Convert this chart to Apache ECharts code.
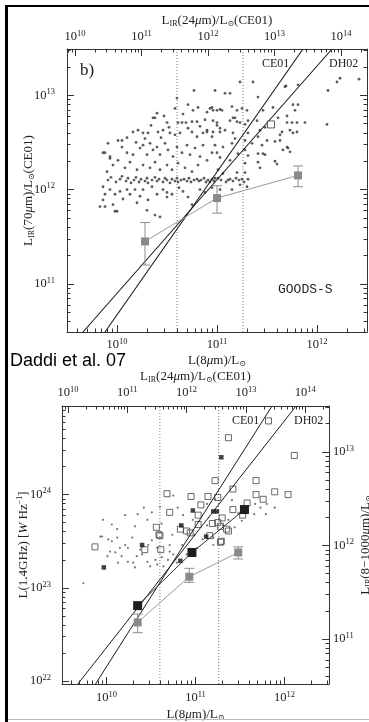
<!DOCTYPE html>
<html><head><meta charset="utf-8">
<script src="https://cdn.jsdelivr.net/npm/echarts@6/dist/echarts.min.js"></script>
<style>html,body{margin:0;padding:0;background:#fff}#c{width:369px;height:722px}</style>
</head><body><div id="c"></div>
<script>
// ===== DATA (all values are log10 of the plotted quantity) =====
// Top panel (GOODS-S): x = log L(8um)/Lsun, y = log LIR(70um)/Lsun
const topDots = [
[10.60,12.97],[10.77,13.05],[10.98,13.05],[11.08,13.02],[11.13,13.02],[11.23,13.14],[11.36,13.14],[11.41,12.98],[11.69,13.10],[11.81,13.11],[12.11,13.05],[12.20,13.14],[12.23,13.18],[12.42,13.17],
[10.58,12.86],[10.71,12.90],[10.76,12.84],[10.81,12.87],[10.93,12.86],[11.03,12.85],[11.15,12.88],[10.90,12.82],[10.96,12.84],[10.40,12.81],[10.36,12.76],[10.38,12.76],[10.50,12.71],[10.61,12.71],[10.65,12.71],[10.69,12.71],[10.75,12.72],[10.80,12.72],[10.83,12.67],[10.96,12.73],[11.00,12.68],[10.90,12.63],[11.16,12.76],[11.23,12.71],[11.28,12.69],
[10.21,12.63],[10.16,12.61],[10.26,12.60],[10.31,12.60],[10.41,12.61],[10.46,12.63],[10.53,12.60],[10.58,12.58],[10.63,12.60],[10.75,12.61],[10.80,12.56],[10.86,12.60],[10.90,12.61],[10.95,12.56],[11.03,12.61],[11.16,12.60],[11.28,12.52],[11.35,12.49],[11.41,12.56],[11.50,12.52],[11.63,12.52],[11.76,12.60],[11.80,12.61],
[10.98,12.47],[11.06,12.45],[11.15,12.49],[11.31,12.60],[11.18,12.54],[10.95,12.39],[11.00,12.39],[11.03,12.34],[11.21,12.38],[11.28,12.42],[11.31,12.36],[11.41,12.38],[11.48,12.37],[11.13,12.31],[11.20,12.18],[11.28,12.28],[11.01,12.21],[11.06,12.17],[11.28,12.18],[11.11,12.10],[11.25,12.11],[10.98,12.12],[10.93,12.08],
[10.95,12.87],[11.00,12.84],[11.05,12.84],[11.25,12.86],[11.20,12.84],[11.30,12.84],[11.46,12.84],[11.18,12.76],[11.13,12.73],[11.20,12.72],[11.00,12.71],[11.08,12.63],[11.31,12.73],[11.40,12.73],[11.43,12.63],[11.48,12.66],[10.96,12.61],[11.03,12.65],[11.63,12.58],[11.68,13.09],[11.88,12.71],[11.75,12.71],[11.80,12.71],
[11.76,12.90],[11.81,12.90],[11.78,12.84],[12.10,12.69],[11.70,12.71],[11.61,12.76],[11.66,12.42],[11.71,12.44],[11.58,12.51],[11.45,12.47],[11.58,12.30],[11.65,12.61],[11.73,12.63],[11.41,12.29],[11.43,12.23],[11.46,12.38],[11.60,12.27],[11.70,12.45],[11.73,12.40],[11.56,12.87],[11.70,12.78],
[9.86,12.39],[9.93,12.35],[10.05,12.45],[10.10,12.39],[10.16,12.37],[10.23,12.44],[10.26,12.47],[10.30,12.37],[10.33,12.49],[10.36,12.42],[10.40,12.45],[10.43,12.37],[10.48,12.49],[10.51,12.42],[10.56,12.35],[10.60,12.45],[10.65,12.39],[10.70,12.47],[10.73,12.37],[10.78,12.44],[10.83,12.35],[10.86,12.47],[10.90,12.31],
[9.96,12.26],[10.01,12.31],[10.08,12.23],[10.13,12.29],[10.20,12.21],[10.26,12.26],[10.33,12.23],[10.38,12.29],[10.43,12.21],[10.50,12.26],[10.55,12.21],[10.61,12.28],[10.68,12.23],[10.75,12.19],[10.81,12.26],[9.90,12.19],
[9.91,12.49],[9.88,12.39],[10.01,12.52],[10.05,12.52],[9.93,12.33],
[10.10,12.55],[10.19,12.50],[10.28,12.54],[10.44,12.55],[10.52,12.66],[10.34,12.68],[10.47,12.78],[10.66,12.80],[10.71,12.65],[10.88,12.74],
[9.91,12.10],[9.94,12.13],[9.99,12.08],[10.03,12.11],[10.05,12.14],[10.09,12.09],[10.11,12.12],[10.14,12.07],[10.17,12.10],[10.19,12.13],[10.22,12.08],[10.24,12.11],[10.28,12.09],[10.30,12.12],[10.31,12.07],[10.35,12.10],[10.38,12.13],[10.40,12.09],[10.42,12.11],[10.46,12.08],[10.48,12.12],[10.50,12.10],[10.53,12.07],[10.55,12.11],[10.58,12.09],[10.60,12.12],[10.61,12.08],[10.64,12.10],[10.67,12.11],[10.70,12.09],[10.72,12.12],[10.74,12.08],[10.77,12.10],[10.80,12.11],[10.82,12.09],[10.84,12.10],[10.87,12.12],[10.89,12.08],[10.91,12.10],[10.95,12.11],[10.97,12.09],[11.01,12.12],[11.04,12.10],[11.09,12.08],[11.13,12.11],[11.16,12.09],[11.19,12.12],[11.22,12.10],[11.27,12.08],[11.31,12.11],
[9.86,12.03],[9.88,11.95],[9.93,12.00],[9.98,11.95],[10.03,11.98],[9.86,11.89],[9.83,11.82],[9.88,11.82],[9.96,11.84],[9.98,11.77],[10.00,11.77],[10.10,12.00],[10.13,11.95],[10.18,12.00],[10.23,11.93],[10.26,12.00],[10.30,11.78],[10.31,11.89],[10.38,11.73],[10.43,11.71],[10.40,11.95],[10.46,12.00],[10.50,11.97],[10.50,11.92],[10.55,11.95],[10.66,11.98],[10.71,11.92],[10.75,11.84],[10.83,12.00],[10.88,11.97],[10.95,12.02],[11.03,12.00],[11.15,12.00],[11.23,12.05],[11.30,12.03],[10.06,11.90],[10.20,11.86],[10.62,12.02],[10.35,12.03]
];
const topOpenSquare = [[11.54, 12.69]];
const topBinX  = [10.28, 11.00, 11.81];
const topBinY  = [11.45, 11.91, 12.15];
const topBinLo = [11.20, 11.75, 12.03];
const topBinHi = [11.65, 12.04, 12.25];
const topCE01 = [[9.88, 10.49], [11.86, 13.49]];
const topDH02 = [[9.66, 10.49], [12.15, 13.49]];
const dottedL8 = [10.60, 11.26];

// Bottom panel (Daddi et al. 07): x = log L(8um)/Lsun, y = log L(1.4GHz) [W/Hz]
const botDots = [
[10.42,23.86],[10.21,23.78],[10.51,23.81],[10.32,23.66],[10.12,23.63],[9.95,23.55],[10.06,23.50],[10.21,23.46],[10.29,23.54],[10.51,23.51],[10.62,23.69],[10.75,23.99],[10.86,23.78],[11.13,23.90],[11.41,23.94],[11.67,23.90],[11.66,23.79],[11.79,23.79],[11.89,23.86],[11.44,23.65],[11.52,23.72],[11.13,23.67],[11.31,23.67],[10.74,23.57],[10.99,23.57],[10.71,23.46],
[10.04,23.39],[10.01,23.34],[10.13,23.27],[10.24,23.28],[10.30,23.27],[10.34,23.34],[10.46,23.28],[10.49,23.23],[10.55,23.30],[10.57,23.25],[10.62,23.33],[10.64,23.23],[10.71,23.39],[10.75,23.36],[10.79,23.27],[10.90,23.36],[9.93,23.55],[10.02,23.52],[10.12,23.54],[9.74,23.05],[10.15,23.43],[10.38,23.41],[10.24,23.43],[10.10,23.38],[10.17,23.34],[10.40,23.36],[10.32,23.22],[10.69,23.30],[10.47,23.46],[10.57,23.43],[10.85,23.46],[11.02,23.43],[11.08,23.52],[11.20,23.54],[11.37,23.73],[11.48,23.80],[11.73,23.86],[11.80,23.90],[11.20,23.46],[10.97,23.73],[10.80,23.86],[10.60,23.87],[11.22,23.95],[10.35,23.79],[10.46,23.73],[9.96,23.73],[10.06,23.68]
];
const botOpen = [
[11.82,24.79],[11.37,24.61],[12.11,24.42],[11.22,24.15],[11.68,24.15],[11.42,24.06],[10.68,24.01],[11.68,24.00],[11.89,24.03],[12.04,24.00],[10.95,23.98],[11.14,23.98],[11.25,23.97],[11.76,23.95],[11.58,23.91],[11.06,23.89],[10.71,23.81],[11.42,23.84],[11.53,23.78],[11.03,23.78],[11.30,23.75],[11.19,23.69],[11.25,23.70],[10.56,23.65],[10.83,23.63],[11.03,23.68],[11.37,23.61],[10.59,23.57],[11.29,23.50],[9.87,23.44],[11.16,23.56],[10.90,23.61],[10.43,23.41],[10.60,23.56],[10.94,23.59],[11.28,23.66],[11.35,23.63],[10.61,23.41],[11.28,23.49]
];
const botFilledSmall = [
[11.29,24.40],[10.97,23.83],[11.20,23.82],[11.24,23.82],[10.84,23.67],[11.12,23.55],[10.40,23.46],[9.97,23.22],[10.83,23.29]
];
const botBlackX = [10.35, 10.96, 11.55];
const botBlackY = [22.81, 23.38, 23.84];
const botGrayX  = [10.35, 10.93, 11.48];
const botGrayY  = [22.63, 23.12, 23.38];
const botGrayLo = [22.52, 23.06, 23.31];
const botGrayHi = [22.72, 23.21, 23.44];
const botCE01 = [[9.87, 21.96], [11.86, 24.95]];
const botDH02 = [[9.67, 21.96], [12.13, 24.95]];

// Axis ranges (log10)
const topL8Range = [9.5, 12.5], topLIR24Range = [9.88, 14.39], topLIR70Range = [10.49, 13.49];
const botL8Range = [9.5, 12.5], botLIR24Range = [9.9, 14.4], botRadioRange = [21.97, 24.95], botLIRRange = [10.52, 13.49];

// ===== CHART =====
const SERIF = '"Liberation Serif","DejaVu Serif",serif';
const INK = '#222';
const richLbl = {
  b: {fontFamily: SERIF, fontSize: 12.5, color: INK},
  s: {fontFamily: SERIF, fontSize: 8.5, color: INK, padding: [0, 0, 7, 0]}
};
const richName = {
  n: {fontFamily: SERIF, fontSize: 13, color: INK},
  it: {fontFamily: SERIF, fontSize: 13, fontStyle: 'italic', color: INK},
  sub: {fontFamily: SERIF, fontSize: 8, color: INK, padding: [6, 0, 0, 0]},
  sup: {fontFamily: SERIF, fontSize: 8, color: INK, padding: [0, 0, 7, 0]}
};
function pow10(v) { return '{b|10}{s|' + Math.round(v) + '}'; }
function ints(r) { const a = []; for (let n = Math.ceil(r[0] - 1e-9); n <= r[1] + 1e-9; n++) a.push(n); return a; }
function minors(r) {
  const a = [];
  for (let n = Math.floor(r[0]) - 1; n <= Math.ceil(r[1]); n++)
    for (let k = 2; k <= 9; k++) { const v = n + Math.log10(k); if (v > r[0] && v < r[1]) a.push(v); }
  return a;
}
function axis(grid, pos, r, major, opt) {
  opt = opt || {};
  return {
    type: 'value', gridIndex: grid, position: pos, min: r[0], max: r[1],
    axisLine: {show: major, onZero: false, lineStyle: {color: '#333', width: 1}},
    splitLine: {show: false},
    axisTick: {show: true, inside: true, length: major ? 7 : 3.5,
      customValues: major ? ints(r) : minors(r), lineStyle: {color: '#333', width: 1}},
    axisLabel: {show: !!opt.labels, customValues: ints(r), formatter: pow10,
      margin: opt.margin || 6, rich: richLbl},
    name: opt.name || '', nameLocation: 'middle', nameGap: opt.nameGap || 20,
    nameMoveOverlap: false,
    nameTextStyle: {rich: richName},
    z: 5
  };
}
const xAxes = [
  axis(0, 'bottom', topL8Range, true, {labels: true, margin: 5, name: '{n|L(8}{it|μ}{n|m)/L}{sub|⊙}', nameGap: 22}),
  axis(0, 'bottom', topL8Range, false),
  axis(0, 'top', topLIR24Range, true, {labels: true, margin: 4, name: '{n|L}{sub|IR}{n|(24}{it|μ}{n|m)/L}{sub|⊙}{n|(CE01)}', nameGap: 21}),
  axis(0, 'top', topLIR24Range, false),
  axis(1, 'bottom', botL8Range, true, {labels: true, margin: 6, name: '{n|L(8}{it|μ}{n|m)/L}{sub|⊙}', nameGap: 24}),
  axis(1, 'bottom', botL8Range, false),
  axis(1, 'top', botLIR24Range, true, {labels: true, margin: 5, name: '{n|L}{sub|IR}{n|(24}{it|μ}{n|m)/L}{sub|⊙}{n|(CE01)}', nameGap: 22}),
  axis(1, 'top', botLIR24Range, false)
];
const yAxes = [
  axis(0, 'left', topLIR70Range, true, {labels: true, margin: 12, name: '{n|L}{sub|IR}{n|(70}{it|μ}{n|m)/L}{sub|⊙}{n|(CE01)}', nameGap: 31}),
  axis(0, 'left', topLIR70Range, false),
  axis(0, 'right', topLIR70Range, true),
  axis(0, 'right', topLIR70Range, false),
  axis(1, 'left', botRadioRange, true, {labels: true, margin: 11, name: '{n|L(1.4GHz) [}{it|W}{n| Hz}{sup|−1}{n|]}', nameGap: 31}),
  axis(1, 'left', botRadioRange, false),
  axis(1, 'right', botLIRRange, true, {labels: true, margin: 4, name: '{n|L}{sub|IR}{n|(8−1000}{it|μ}{n|m)/L}{sub|⊙}', nameGap: 30}),
  axis(1, 'right', botLIRRange, false)
];

function zip(xs, ys) { return xs.map((x, i) => [x, ys[i]]); }
function errData(xs, ys, lo, hi) { return xs.map((x, i) => [x, ys[i], lo[i], hi[i]]); }
function errRender(params, api) {
  const x = api.value(0), lo = api.value(2), hi = api.value(3);
  const a = api.coord([x, hi]), b = api.coord([x, lo]);
  const w = 5, st = {stroke: '#8c8c8c', lineWidth: 1};
  return {type: 'group', children: [
    {type: 'line', shape: {x1: a[0], y1: a[1], x2: b[0], y2: b[1]}, style: st},
    {type: 'line', shape: {x1: a[0] - w, y1: a[1], x2: a[0] + w, y2: a[1]}, style: st},
    {type: 'line', shape: {x1: b[0] - w, y1: b[1], x2: b[0] + w, y2: b[1]}, style: st}
  ]};
}
function vlines(xs, r) { return xs.map(x => [[x, r[0]], [x, r[1]]]); }

const series = [];
function add(s) { series.push(Object.assign({silent: true, animation: false}, s)); }
// ---- top panel (x 0, y 0)
add({type: 'scatter', xAxisIndex: 0, yAxisIndex: 0, data: topDots, symbol: 'circle', symbolSize: 2.8, itemStyle: {color: '#333'}, z: 2});
vlines(dottedL8, topLIR70Range).forEach(d => add({type: 'line', xAxisIndex: 0, yAxisIndex: 0, data: d, symbol: 'none', lineStyle: {color: '#777', width: 1, type: [1, 2]}, z: 3}));
add({type: 'line', xAxisIndex: 0, yAxisIndex: 0, data: topCE01, symbol: 'none', lineStyle: {color: '#1a1a1a', width: 1.1}, z: 4});
add({type: 'line', xAxisIndex: 0, yAxisIndex: 0, data: topDH02, symbol: 'none', lineStyle: {color: '#1a1a1a', width: 1.1}, z: 4});
add({type: 'custom', xAxisIndex: 0, yAxisIndex: 0, data: errData(topBinX, topBinY, topBinLo, topBinHi), renderItem: errRender, encode: {x: 0, y: 1}, z: 5});
add({type: 'line', xAxisIndex: 0, yAxisIndex: 0, data: zip(topBinX, topBinY), symbol: 'rect', symbolSize: 8, itemStyle: {color: '#8a8a8a'}, lineStyle: {color: '#999', width: 1}, z: 6});
add({type: 'scatter', xAxisIndex: 0, yAxisIndex: 0, data: topOpenSquare, symbol: 'rect', symbolSize: 7, itemStyle: {color: '#fff', borderColor: '#333', borderWidth: 1}, z: 6});
// ---- bottom panel (x 4, y 4)
add({type: 'scatter', xAxisIndex: 4, yAxisIndex: 4, data: botDots, symbol: 'circle', symbolSize: 2.2, itemStyle: {color: '#555'}, z: 2});
vlines(dottedL8, botRadioRange).forEach(d => add({type: 'line', xAxisIndex: 4, yAxisIndex: 4, data: d, symbol: 'none', lineStyle: {color: '#777', width: 1, type: [1, 2]}, z: 3}));
add({type: 'scatter', xAxisIndex: 4, yAxisIndex: 4, data: botOpen, symbol: 'rect', symbolSize: 6, itemStyle: {color: 'rgba(255,255,255,0)', borderColor: '#444', borderWidth: 1}, z: 3});
add({type: 'scatter', xAxisIndex: 4, yAxisIndex: 4, data: botFilledSmall, symbol: 'rect', symbolSize: 4.5, itemStyle: {color: '#111'}, z: 3});
add({type: 'line', xAxisIndex: 4, yAxisIndex: 4, data: botCE01, symbol: 'none', lineStyle: {color: '#1a1a1a', width: 1}, z: 4});
add({type: 'line', xAxisIndex: 4, yAxisIndex: 4, data: botDH02, symbol: 'none', lineStyle: {color: '#1a1a1a', width: 1}, z: 4});
add({type: 'custom', xAxisIndex: 4, yAxisIndex: 4, data: errData(botGrayX, botGrayY, botGrayLo, botGrayHi), renderItem: errRender, encode: {x: 0, y: 1}, z: 5});
add({type: 'line', xAxisIndex: 4, yAxisIndex: 4, data: zip(botGrayX, botGrayY), symbol: 'rect', symbolSize: 8, itemStyle: {color: '#8a8a8a'}, lineStyle: {color: '#999', width: 1}, z: 6});
add({type: 'line', xAxisIndex: 4, yAxisIndex: 4, data: zip(botBlackX, botBlackY), symbol: 'rect', symbolSize: 9, itemStyle: {color: '#1e1e1e'}, lineStyle: {color: '#333', width: 1}, z: 6});

const txt = (x, y, s, font, extra) => ({type: 'text', x: x, y: y, style: Object.assign({text: s, font: font, fill: INK}, extra || {}), z: 20, silent: true});
const chart = echarts.init(document.getElementById('c'), null, {renderer: 'canvas'});
chart.setOption({
  animation: false,
  backgroundColor: '#fff',
  grid: [
    {left: 67, top: 49, width: 300, height: 283, outerBoundsMode: 'none', containLabel: false},
    {left: 62, top: 406, width: 267, height: 278, outerBoundsMode: 'none', containLabel: false}
  ],
  xAxis: xAxes,
  yAxis: yAxes,
  series: series,
  graphic: [
    {type: 'rect', shape: {x: 5, y: 5, width: 3, height: 717}, style: {fill: '#000'}, z: 30, silent: true},
    {type: 'rect', shape: {x: 5, y: 5, width: 364, height: 2}, style: {fill: '#000'}, z: 30, silent: true},
    {type: 'rect', shape: {x: 8, y: 719, width: 361, height: 1}, style: {fill: '#bbb'}, z: 30, silent: true},
    txt(80, 62, 'b)', '17px ' + SERIF),
    txt(262, 58, 'CE01', '12px ' + SERIF),
    txt(329, 58, 'DH02', '12px ' + SERIF),
    txt(278, 283, 'GOODS-S', '13px "Liberation Mono","DejaVu Sans Mono",monospace'),
    txt(10, 352, 'Daddi et al. 07', '18px "Liberation Sans",Arial,sans-serif', {fill: '#000'}),
    txt(232, 415, 'CE01', '12px ' + SERIF),
    txt(294, 415, 'DH02', '12px ' + SERIF)
  ]
});
</script>
</body></html>
